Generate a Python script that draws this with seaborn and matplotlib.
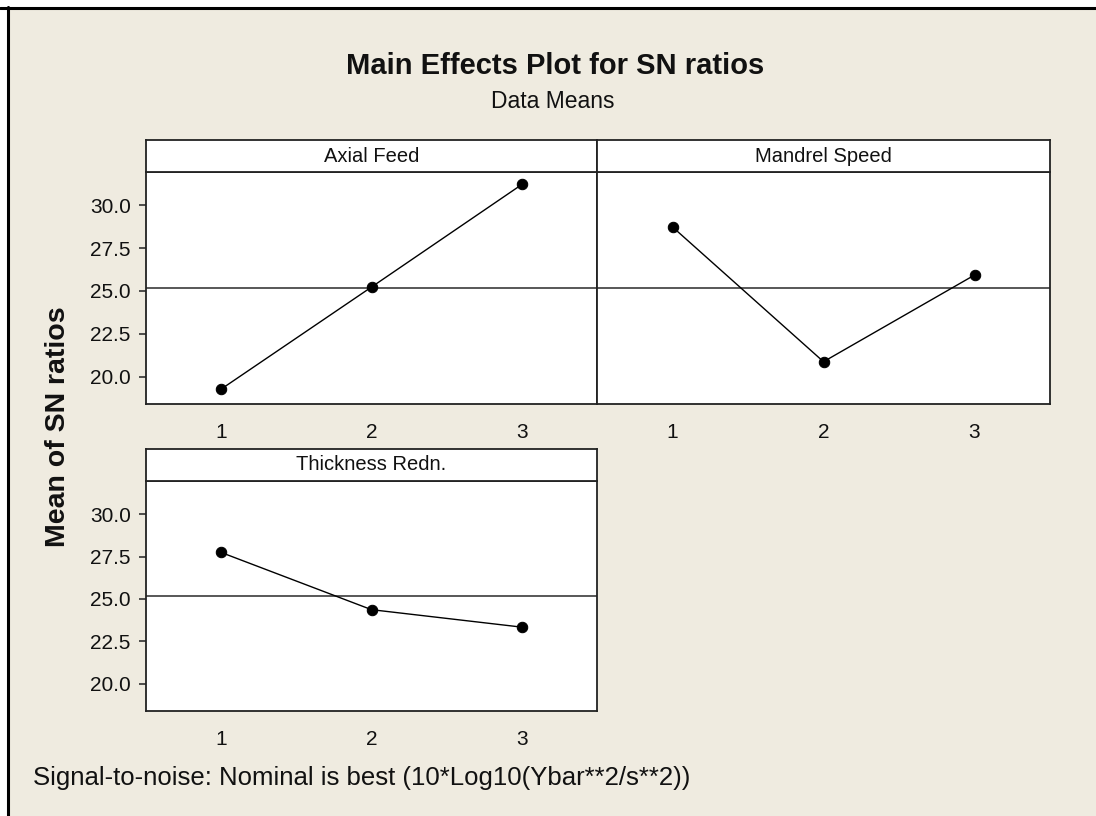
import numpy as np
import pandas as pd
import matplotlib.pyplot as plt
from matplotlib.lines import Line2D
from matplotlib.patches import Rectangle
import seaborn as sns

# Main effects for SN ratios
levels = [1, 2, 3]
axial_feed = [19.27, 25.23, 31.22]
mandrel_speed = [28.74, 20.87, 25.93]
thickness_redn = [27.74, 24.37, 23.34]
factor_names = ['Axial Feed', 'Mandrel Speed', 'Thickness Redn.']
y_ticks = [20.0, 22.5, 25.0, 27.5, 30.0]

df = pd.DataFrame({
    'factor': np.repeat(factor_names, len(levels)),
    'level': levels * 3,
    'sn': axial_feed + mandrel_speed + thickness_redn,
})
grand_mean = df['sn'].mean()

sns.set_theme(style='white')
plt.rcParams['font.family'] = ['Liberation Sans', 'DejaVu Sans']

W, H = 1096, 816
bg = '#EFEBE0'
ink = '#111111'

fig = plt.figure(figsize=(W / 100, H / 100), dpi=100, facecolor='white')

def rect(x0, y0, x1, y1):
    # pixel box (top-left origin) -> figure fraction
    return [x0 / W, 1 - y1 / H, (x1 - x0) / W, (y1 - y0) / H]

# beige window area + black frame on top/left
fig.patches.append(Rectangle((9 / W, 0), 1, 1 - 9 / H, transform=fig.transFigure,
                             facecolor=bg, edgecolor='none', zorder=-10))
fig.add_artist(Line2D([0, 1], [1 - 7.5 / H] * 2, transform=fig.transFigure,
                      color='black', lw=2.2))
fig.add_artist(Line2D([7.5 / W] * 2, [0, 1 - 6.5 / H], transform=fig.transFigure,
                      color='black', lw=2.2))

panels = [
    ('Axial Feed', (146, 172, 597, 404), True),
    ('Mandrel Speed', (597, 172, 1050, 404), False),
    ('Thickness Redn.', (146, 481, 597, 711), True),
]

for name, (x0, y0, x1, y1), show_y in panels:
    ax = fig.add_axes(rect(x0, y0, x1, y1))
    sub = df[df['factor'] == name]
    ax.axhline(grand_mean, color='#4a4a4a', lw=1.3, zorder=1)
    sns.lineplot(data=sub, x='level', y='sn', ax=ax, color='black', lw=1.0,
                 marker='o', markersize=7.5, markeredgecolor='black', zorder=3)
    ax.set_facecolor('white')
    ax.set_xlim(0.5, 3.5)
    ax.set_ylim(18.4, 31.95)
    ax.set_xticks(levels)
    ax.set_xticklabels([str(v) for v in levels])
    ax.set_yticks(y_ticks)
    ax.set_yticklabels([f'{v:.1f}' for v in y_ticks])
    ax.set_xlabel('')
    ax.set_ylabel('')
    for s in ax.spines.values():
        s.set_color('#222222')
        s.set_linewidth(1.3)
    ax.tick_params(axis='x', direction='out', length=6, width=1.1, pad=8,
                   labelsize=15, colors='#222222', labelcolor=ink)
    ax.tick_params(axis='y', direction='out', length=5, width=1.1, pad=6,
                   labelsize=15, colors='#222222', labelcolor=ink, left=show_y,
                   labelleft=show_y)

    # strip header
    hx = fig.add_axes(rect(x0, y0 - 32, x1, y0))
    hx.set_facecolor('white')
    hx.set_xticks([])
    hx.set_yticks([])
    for s in hx.spines.values():
        s.set_color('#222222')
        s.set_linewidth(1.3)
    hx.text(0.5, 0.5, name, ha='center', va='center', fontsize=14.5, color=ink,
            transform=hx.transAxes)

fig.text(555 / W, 1 - 66 / H, 'Main Effects Plot for SN ratios', ha='center',
         va='center', fontsize=21, fontweight='bold', color=ink)
fig.text(553 / W, 1 - 102 / H, 'Data Means', ha='center', va='center',
         fontsize=16.5, color=ink)
fig.text(58 / W, 1 - 427 / H, 'Mean of SN ratios', ha='center', va='center',
         rotation=90, fontsize=20.5, fontweight='bold', color=ink)
fig.text(33 / W, 1 - 778 / H, 'Signal-to-noise: Nominal is best (10*Log10(Ybar**2/s**2))',
         ha='left', va='center', fontsize=18.5, color=ink)

fig.savefig('out.png', dpi=100, facecolor=fig.get_facecolor())
